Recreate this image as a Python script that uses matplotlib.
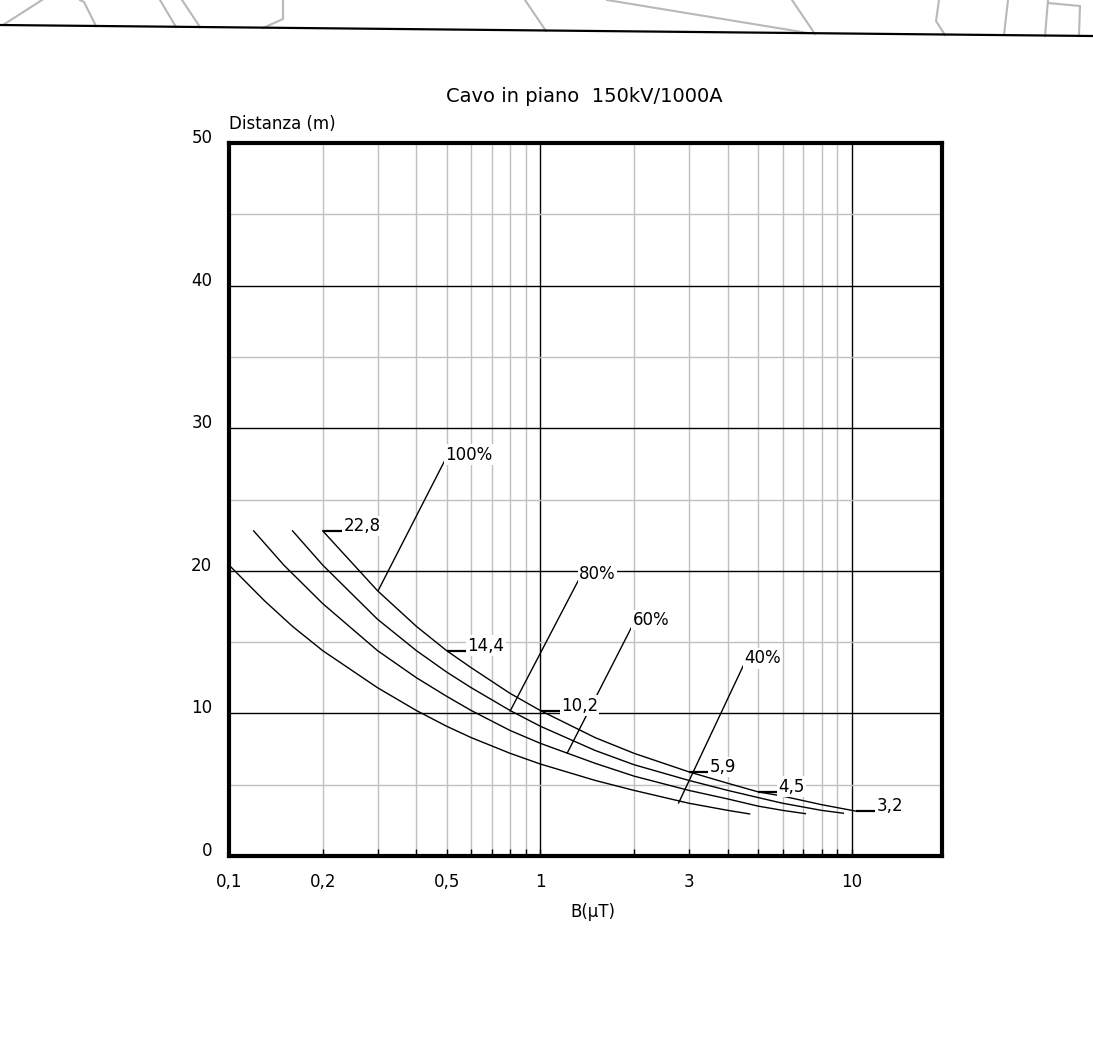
import matplotlib
matplotlib.use("Agg")
import matplotlib.pyplot as plt
from matplotlib.lines import Line2D

# curve data: B (uT) vs distance (m)
b_100 = [0.2, 0.3, 0.4, 0.5, 0.6, 0.8, 1.0, 1.5, 2.0, 3.0, 4.0, 5.0, 6.0, 8.0, 10.3]
d_100 = [22.8, 18.6, 16.1, 14.4, 13.2, 11.4, 10.2, 8.3, 7.2, 5.9, 5.1, 4.5, 4.2, 3.6, 3.15]

b_80 = [0.16, 0.2, 0.3, 0.4, 0.5, 0.6, 0.8, 1.0, 1.5, 2.0, 3.0, 4.0, 5.0, 6.0, 8.0, 9.4]
d_80 = [22.8, 20.4, 16.6, 14.4, 12.9, 11.8, 10.2, 9.1, 7.4, 6.4, 5.3, 4.6, 4.1, 3.7, 3.2, 3.0]

b_60 = [0.12, 0.15, 0.2, 0.3, 0.4, 0.5, 0.6, 0.8, 1.0, 1.5, 2.0, 3.0, 4.0, 5.0, 6.0, 7.1]
d_60 = [22.8, 20.4, 17.7, 14.4, 12.5, 11.2, 10.2, 8.8, 7.9, 6.5, 5.6, 4.6, 4.0, 3.5, 3.2, 2.97]

b_40 = [0.1, 0.13, 0.16, 0.2, 0.3, 0.4, 0.5, 0.6, 0.8, 1.0, 1.5, 2.0, 3.0, 4.0, 4.7]
d_40 = [20.4, 17.9, 16.1, 14.4, 11.8, 10.2, 9.1, 8.3, 7.2, 6.45, 5.3, 4.6, 3.7, 3.2, 2.95]

# values marked on the 100% curve
value_b = [0.2, 0.5, 1.0, 3.0, 5.0, 10.3]
value_d = [22.8, 14.4, 10.2, 5.9, 4.5, 3.15]
value_labels = ["22,8", "14,4", "10,2", "5,9", "4,5", "3,2"]

# percentage labels: point on curve -> text position
pct_labels = ["100%", "80%", "60%", "40%"]
pct_anchor_b = [0.302, 0.80, 1.22, 2.78]
pct_anchor_d = [18.65, 10.17, 7.22, 3.72]
pct_text_b = [0.495, 1.33, 1.98, 4.52]
pct_text_d = [27.8, 19.4, 16.2, 13.5]

x_ticks = [0.1, 0.2, 0.3, 0.4, 0.5, 0.6, 0.7, 0.8, 0.9, 1, 2, 3, 4, 5, 6, 7, 8, 9, 10]
x_tick_labels = ["0,1", "0,2", "", "", "0,5", "", "", "", "", "1",
                 "", "3", "", "", "", "", "", "", "10"]
y_ticks = [0, 10, 20, 30, 40, 50]

W, H = 1093, 1041
fig = plt.figure(figsize=(W / 100, H / 100), dpi=100)
ax = fig.add_axes([229 / W, 185 / H, 713 / W, 713 / H])
ax.set_xscale("log")
ax.set_xlim(0.1, 19.5)
ax.set_ylim(0, 50)

# grid drawn by hand: gray minor, black major
for xv in x_ticks:
    if xv in (0.1,):
        continue
    col = "black" if xv in (1, 10) else "#c0c0c0"
    ax.axvline(xv, color=col, lw=1.0, zorder=1)
for yv in range(5, 50, 5):
    col = "black" if yv % 10 == 0 else "#c0c0c0"
    ax.axhline(yv, color=col, lw=1.0, zorder=1)

for bb, dd in [(b_100, d_100), (b_80, d_80), (b_60, d_60), (b_40, d_40)]:
    ax.plot(bb, dd, color="black", lw=1.0, zorder=3)

# value leaders on the 100% curve
for b, d, lab in zip(value_b, value_d, value_labels):
    ax.plot([b, b * 1.16], [d, d], color="black", lw=1.6, zorder=4,
            solid_capstyle="butt")
    ax.text(b * 1.165, d, lab, ha="left", va="baseline", fontsize=12, zorder=5,
            bbox=dict(facecolor="white", edgecolor="none", pad=1.0))

for lab, ab, ad, tb, td in zip(pct_labels, pct_anchor_b, pct_anchor_d, pct_text_b, pct_text_d):
    ax.plot([ab, tb], [ad, td], color="black", lw=1.0, zorder=4)
    ax.text(tb, td, lab, ha="left", va="baseline", fontsize=12, zorder=5,
            bbox=dict(facecolor="white", edgecolor="none", pad=1.0))

ax.set_xticks(x_ticks, labels=x_tick_labels)
ax.xaxis.set_minor_locator(matplotlib.ticker.NullLocator())
ax.set_yticks(y_ticks)
ax.tick_params(axis="x", direction="in", length=5, width=1, color="black",
               labelsize=12, pad=12.5)
ax.tick_params(axis="y", length=0, labelsize=12, pad=12)
plt.setp(ax.get_yticklabels(), va="baseline")

for s in ax.spines.values():
    s.set_linewidth(3)
    s.set_zorder(6)

fig.text(584 / W, 1 - 97 / H, "Cavo in piano  150kV/1000A", ha="center", va="center",
         fontsize=14)
fig.text(229 / W, 1 - 124 / H, "Distanza (m)", ha="left", va="center", fontsize=12)
fig.text(593 / W, 1 - 912 / H, "B(\u03bcT)", ha="center", va="center", fontsize=12)

# fragment of a drawing cropped at the top of the page
top_black = [(0, 25), (1093, 36)]
top_gray = [
    [(3, 25), (42, 0)],
    [(80, 0), (84, 2), (96, 26)],
    [(160, 0), (176, 27)],
    [(182, 0), (200, 27)],
    [(283, 0), (283, 19), (263, 28)],
    [(525, 0), (546, 31)],
    [(607, 0), (808, 33)],
    [(792, 0), (815, 34)],
    [(939, 0), (936, 21), (945, 35)],
    [(1008, 0), (1004, 35)],
    [(1048, 0), (1045, 36)],
    [(1048, 3), (1080, 6), (1079, 36)],
]
for pl in top_gray:
    xs = [p[0] / W for p in pl]
    ys = [1 - p[1] / H for p in pl]
    fig.add_artist(Line2D(xs, ys, color="#b8b8b8", lw=1.5, transform=fig.transFigure))
fig.add_artist(Line2D([p[0] / W for p in top_black], [1 - p[1] / H for p in top_black],
                      color="black", lw=1.6, transform=fig.transFigure))

fig.savefig("out.png", dpi=100)
